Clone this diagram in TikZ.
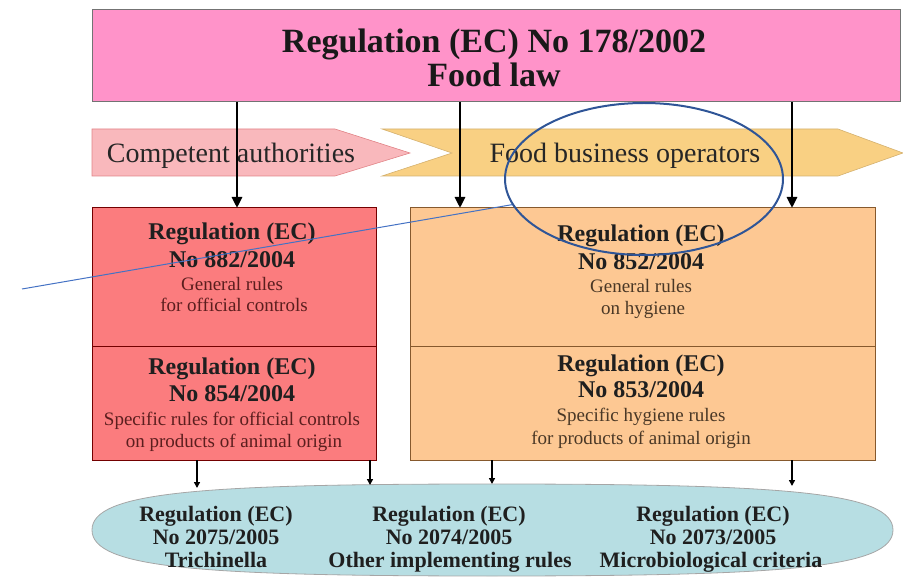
\documentclass[tikz,border=0pt]{standalone}
\usepackage{fontspec}
\setmainfont{Liberation Serif}
\usetikzlibrary{arrows.meta,shapes.geometric}
\definecolor{toppink}{HTML}{FF93C9}
\definecolor{bandpink}{HTML}{F9B8BC}
\definecolor{bandorange}{HTML}{F9D083}
\definecolor{leftred}{HTML}{FB7C7E}
\definecolor{rightorange}{HTML}{FDC893}
\definecolor{ellcyan}{HTML}{B7DEE3}
\definecolor{annblue}{HTML}{2F5597}
\definecolor{annline}{HTML}{4472C4}
\definecolor{darkred}{HTML}{5B1E1E}
\definecolor{darkbrown}{HTML}{4A3826}
\begin{document}
\begin{tikzpicture}[x=1pt,y=-1pt,
  bigarrow/.style={line width=2.8pt,-{Triangle[length=11pt,width=10pt]}},
  smallarrow/.style={line width=1.5pt,-{Triangle[length=6pt,width=6pt]}},
  regbox/.style={draw=#1,line width=1pt,anchor=north west,inner sep=0pt,outer sep=0pt},
  hd/.style={font=\fontsize{24}{28}\selectfont\bfseries, anchor=base, inner sep=0pt, text=black!88},
  sm/.style={font=\fontsize{19}{22}\selectfont, anchor=base, inner sep=0pt},
  el/.style={font=\fontsize{22}{25}\selectfont\bfseries, anchor=base, inner sep=0pt, text=black!88},
  bandtext/.style={font=\fontsize{28}{32}\selectfont, anchor=base, inner sep=0pt, text=black!85},
]
\useasboundingbox (0,0) rectangle (903,577);

% top box
\node[regbox=black!55, fill=toppink, minimum width=808pt, minimum height=92pt] (top) at (92,10) {};
\node[font=\fontsize{34}{37}\selectfont\bfseries, anchor=base, inner sep=0pt, text=black!90] (t1) at (494,53) {Regulation (EC) No 178/2002};
\node[font=\fontsize{34}{37}\selectfont\bfseries, anchor=base, inner sep=0pt, text=black!90] (t2) at (494,87) {Food law};

% band
\fill[bandpink, draw=bandpink!80!red!90!black, line width=0.6pt] (92,129) -- (335,129) -- (410,153) -- (335,176) -- (92,176) -- cycle;
\fill[bandorange, draw=bandorange!85!black, line width=0.6pt] (382,129) -- (838,129) -- (903,153) -- (838,176) -- (382,176) -- (452,153) -- cycle;
\node[bandtext] (ca) at (231,163) {Competent authorities};
\node[bandtext] (fbo) at (625,163) {Food business operators};

% regulation boxes
\node[regbox=red!45!black, fill=leftred, minimum width=284pt, minimum height=139pt] (lt) at (92,208) {};
\node[regbox=red!45!black, fill=leftred, minimum width=284pt, minimum height=113pt] (lb) at (92,347) {};
\node[regbox=brown!70!black, fill=rightorange, minimum width=465pt, minimum height=139pt] (rt) at (410,208) {};
\node[regbox=brown!70!black, fill=rightorange, minimum width=465pt, minimum height=113pt] (rb) at (410,347) {};

\node[hd] (l1) at (232,240) {Regulation (EC)};
\node[hd] (l2) at (232,268) {No 882/2004};
\node[sm, text=darkred] (l3) at (232,291) {General rules};
\node[sm, text=darkred] (l4) at (234,312) {for official controls};
\node[hd] (l5) at (232,375) {Regulation (EC)};
\node[hd] (l6) at (232,402) {No 854/2004};
\node[sm, text=darkred] (l7) at (232,425) {Specific rules for official controls};
\node[sm, text=darkred] (l8) at (234,447) {on products of animal origin};

\node[hd] (r1) at (641,242) {Regulation (EC)};
\node[hd] (r2) at (641,270) {No 852/2004};
\node[sm, text=darkbrown] (r3) at (641,293) {General rules};
\node[sm, text=darkbrown] (r4) at (643,315) {on hygiene};
\node[hd] (r5) at (641,372) {Regulation (EC)};
\node[hd] (r6) at (641,398) {No 853/2004};
\node[sm, text=darkbrown] (r7) at (641,422) {Specific hygiene rules};
\node[sm, text=darkbrown] (r8) at (641,445) {for products of animal origin};

% big arrows
\coordinate (a1) at (237,208);
\coordinate (a2) at (460,208);
\coordinate (a3) at (792,208);
\draw[bigarrow] (a1 |- top.south) -- (a1 |- lt.north);
\draw[bigarrow] (a2 |- top.south) -- (a2 |- rt.north);
\draw[bigarrow] (a3 |- top.south) -- (a3 |- rt.north);

% bottom ellipse
\filldraw[fill=ellcyan, draw=gray!70, line width=0.8pt]
  (92,530) .. controls (92,492) and (200,484) .. (492,484)
  .. controls (784,484) and (893,492) .. (893,530)
  .. controls (893,568) and (784,576) .. (492,576)
  .. controls (200,576) and (92,568) .. (92,530) -- cycle;
\coordinate (e1) at (197,488);
\coordinate (e2) at (370,485);
\coordinate (e3) at (492,484);
\coordinate (e4) at (792,486);
\draw[smallarrow] (e1 |- lb.south) -- (e1);
\draw[smallarrow] (e2 |- lb.south) -- (e2);
\draw[smallarrow] (e3 |- rb.south) -- (e3);
\draw[smallarrow] (e4 |- rb.south) -- (e4);

\node[el] (b1) at (216,521) {Regulation (EC)};
\node[el] (b2) at (216,544) {No 2075/2005};
\node[el] (b3) at (216,567) {Trichinella};
\node[el] (b4) at (449,521) {Regulation (EC)};
\node[el] (b5) at (449,544) {No 2074/2005};
\node[el] (b6) at (450,567) {Other implementing rules};
\node[el] (b7) at (713,521) {Regulation (EC)};
\node[el] (b8) at (713,544) {No 2073/2005};
\node[el] (b9) at (711,567) {Microbiological criteria};

% annotation
\node[draw=annblue, line width=2pt, ellipse, minimum width=278pt, minimum height=152pt, inner sep=0pt] (ann) at (644,179) {};
\coordinate (lend) at (22,289);
\draw[annline, line width=1pt] (lend) -- (ann.191);
\end{tikzpicture}
\end{document}
